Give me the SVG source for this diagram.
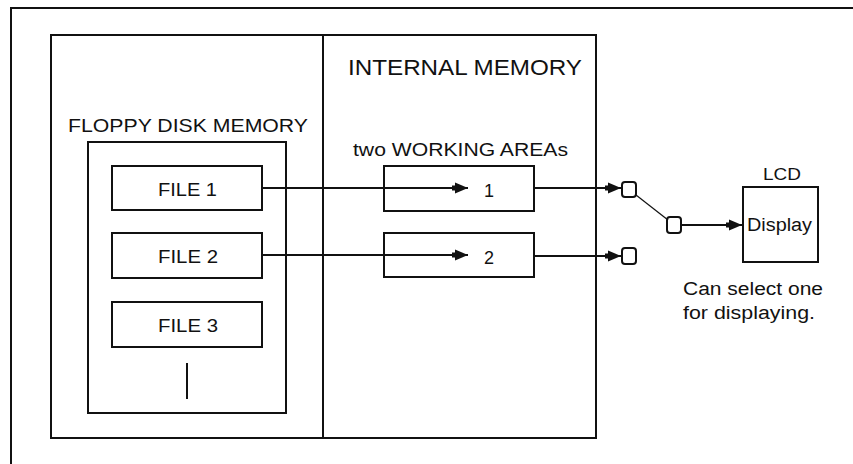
<svg xmlns="http://www.w3.org/2000/svg" width="853" height="464" viewBox="0 0 853 464">
<style>
.box{fill:none;stroke:#111;stroke-width:2}
.ln{fill:none;stroke:#111;stroke-width:2}
.sq{fill:#fff;stroke:#111;stroke-width:2}
text{font-family:"Liberation Sans",Arial,sans-serif;fill:#111}
</style>
<defs>
<marker id="ah" markerUnits="userSpaceOnUse" markerWidth="16" markerHeight="14" refX="13" refY="7" orient="auto" overflow="visible">
<path d="M0,1.5 L13,7 L0,12.5 Z" fill="#111"/>
<rect x="-3" y="4.5" width="4" height="5" fill="#111"/>
</marker>
</defs>
<rect width="853" height="464" fill="#fff"/>
<g id="frame"><rect class="box" x="11" y="8" width="900" height="500" stroke-width="2.5"/></g>
<g id="memory-area">
<rect class="box" x="51" y="35" width="545" height="403"/>
<line class="ln" x1="323" y1="35" x2="323" y2="438"/>
<text x="348" y="75" font-size="22" textLength="234" lengthAdjust="spacingAndGlyphs">INTERNAL MEMORY</text>
</g>
<g id="floppy">
<text x="68" y="132" font-size="18" textLength="240" lengthAdjust="spacingAndGlyphs">FLOPPY DISK MEMORY</text>
<rect class="box" x="88" y="142" width="198" height="271"/>
<line class="ln" x1="187" y1="363" x2="187" y2="399"/>
</g>
<g id="file1"><rect class="box" x="112" y="166" width="150" height="44"/><text x="158" y="196" font-size="18" textLength="59" lengthAdjust="spacingAndGlyphs">FILE 1</text></g>
<g id="file2"><rect class="box" x="112" y="233" width="150" height="45"/><text x="158" y="263" font-size="18" textLength="60" lengthAdjust="spacingAndGlyphs">FILE 2</text></g>
<g id="file3"><rect class="box" x="112" y="302" width="150" height="45"/><text x="158" y="332" font-size="18" textLength="60" lengthAdjust="spacingAndGlyphs">FILE 3</text></g>
<g id="working-areas-label"><text x="353" y="156" font-size="18" textLength="215" lengthAdjust="spacingAndGlyphs">two WORKING AREAs</text></g>
<g id="wa1"><rect class="box" x="384" y="166" width="150" height="45"/><text x="484" y="197" font-size="18">1</text></g>
<g id="wa2"><rect class="box" x="384" y="233" width="150" height="44"/><text x="484" y="264" font-size="18">2</text></g>
<g id="out1"><rect class="sq" x="622" y="182" width="14" height="15" rx="3"/></g>
<g id="out2"><rect class="sq" x="622" y="248" width="14" height="16" rx="3"/></g>
<g id="switch"><rect class="sq" x="667" y="217" width="14" height="16" rx="3"/></g>
<g id="lcd">
<text x="763" y="180" font-size="17" textLength="38" lengthAdjust="spacingAndGlyphs">LCD</text>
<rect class="box" x="743" y="187" width="75" height="75"/>
<text x="747" y="231" font-size="18" textLength="65" lengthAdjust="spacingAndGlyphs">Display</text>
</g>
<g id="note">
<text x="683" y="295" font-size="18" textLength="140" lengthAdjust="spacingAndGlyphs">Can select one</text>
<text x="683" y="319" font-size="18" textLength="132" lengthAdjust="spacingAndGlyphs">for displaying.</text>
</g>
<g id="connectors">
<line class="ln" x1="262" y1="188" x2="468" y2="188" marker-end="url(#ah)"/>
<line class="ln" x1="262" y1="255" x2="468" y2="255" marker-end="url(#ah)"/>
<line class="ln" x1="534" y1="188" x2="621" y2="188" marker-end="url(#ah)"/>
<line class="ln" x1="534" y1="256" x2="621" y2="256" marker-end="url(#ah)"/>
<line x1="636" y1="195" x2="668" y2="220" stroke="#111" stroke-width="1.2"/>
<line class="ln" x1="681" y1="225" x2="742" y2="225" marker-end="url(#ah)"/>
</g>
</svg>
